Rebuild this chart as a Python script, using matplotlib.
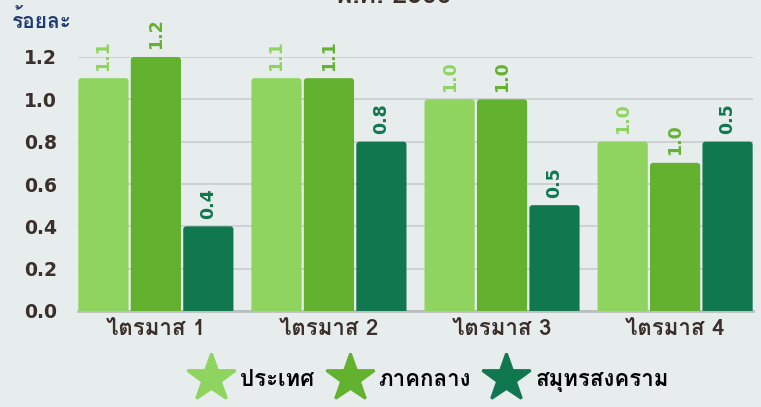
import matplotlib
matplotlib.use("Agg")
import matplotlib.pyplot as plt
from matplotlib import font_manager
from matplotlib.ft2font import FT2Font
from matplotlib.lines import Line2D
from matplotlib.patches import FancyBboxPatch
import numpy as np

# ---- data ----
categories = ["ไตรมาส 1", "ไตรมาส 2", "ไตรมาส 3", "ไตรมาส 4"]
series_names = ["ประเทศ", "ภาคกลาง", "สมุทรสงคราม"]
heights_country = [1.1, 1.1, 1.0, 0.8]
heights_central = [1.2, 1.1, 1.0, 0.7]
heights_samut = [0.4, 0.8, 0.5, 0.8]
labels_country = ["1.1", "1.1", "1.0", "1.0"]
labels_central = ["1.2", "1.1", "1.0", "1.0"]
labels_samut = ["0.4", "0.8", "0.5", "0.5"]
yticks = [0.0, 0.2, 0.4, 0.6, 0.8, 1.0, 1.2]
ytick_labels = ["0.0", "0.2", "0.4", "0.6", "0.8", "1.0", "1.2"]
unit_label = "ร้อยละ"
title_text = "พ.ศ. 2566"

colors = ["#8ed45f", "#63b22f", "#10774e"]
bg = "#e7eded"
dark = "#3b2f2b"

# ---- find a font with Thai glyphs ----
thai_font = None
for fe in font_manager.fontManager.ttflist:
    try:
        cmap = FT2Font(fe.fname).get_charmap()
        if 0x0E01 in cmap and 0x0E32 in cmap:
            thai_font = fe.name
            if fe.weight in (700, "bold"):
                break
    except Exception:
        pass
fams = ([thai_font] if thai_font else []) + ["DejaVu Sans"]
plt.rcParams["font.family"] = fams

fig = plt.figure(figsize=(7.61, 4.07), dpi=100, facecolor=bg)
ax = fig.add_axes([78 / 761, 1 - 311 / 407, 675 / 761, (311 - 57) / 407])
ax.set_facecolor(bg)
ax.set_xlim(-0.45, 3.45)
ax.set_ylim(0, 1.2)

x = np.arange(len(categories))
w = 0.29
off = 0.303
xpp = 3.9 / 675
ypp = 1.2 / 254
all_h = [heights_country, heights_central, heights_samut]
all_l = [labels_country, labels_central, labels_samut]
for i, (hs, ls) in enumerate(zip(all_h, all_l)):
    xs = x + (i - 1) * off
    for xx, hh, lab in zip(xs, hs, ls):
        p = FancyBboxPatch((xx - w / 2, -0.05), w, hh + 0.05,
                           boxstyle=f"round,pad=0,rounding_size={3 * xpp}",
                           mutation_aspect=ypp / xpp,
                           facecolor=colors[i], edgecolor="none", zorder=3)
        ax.add_patch(p)
        ax.annotate(lab, (xx, hh), xytext=(0, 5.5), textcoords="offset points",
                    rotation=90, ha="center", va="bottom", fontsize=12.5,
                    fontweight="bold", color=colors[i],
                    family="DejaVu Sans", annotation_clip=False)

ax.set_yticks(yticks)
ax.set_yticklabels(ytick_labels, fontsize=13.5, fontweight="bold", color=dark,
                   family="DejaVu Sans")
ax.set_xticks(x)
ax.set_xticklabels(categories, fontsize=16, fontweight="bold", color=dark)
ax.tick_params(axis="both", length=0)
ax.tick_params(axis="y", pad=15)
ax.tick_params(axis="x", pad=6)
for s in ax.spines.values():
    s.set_visible(False)
ax.grid(axis="y", color="#c9cccc", linewidth=1.2, zorder=0)
ax.axhline(0, color="#bdbfbf", linewidth=2, zorder=2, clip_on=False)
ax.set_axisbelow(True)

fig.text(12 / 761, 1 - 20 / 407, unit_label, fontsize=15, fontweight="bold",
         color="#1f3b73", va="center", ha="left")
fig.text(393 / 761, 1 - 3 / 407, title_text, fontsize=19, fontweight="bold",
         color=dark, va="baseline", ha="center")

handles = [Line2D([], [], marker="*", linestyle="none", markersize=36,
                  markerfacecolor=c, markeredgecolor=c, markeredgewidth=2)
           for c in colors]
fig.legend(handles, series_names, loc="center", bbox_to_anchor=(432 / 761, 1 - 381 / 407),
           ncol=3, frameon=False, handletextpad=0.6, columnspacing=0.9,
           handlelength=1.4, prop={"weight": "bold", "size": 16})

fig.savefig("out.png", dpi=100, facecolor=bg)
